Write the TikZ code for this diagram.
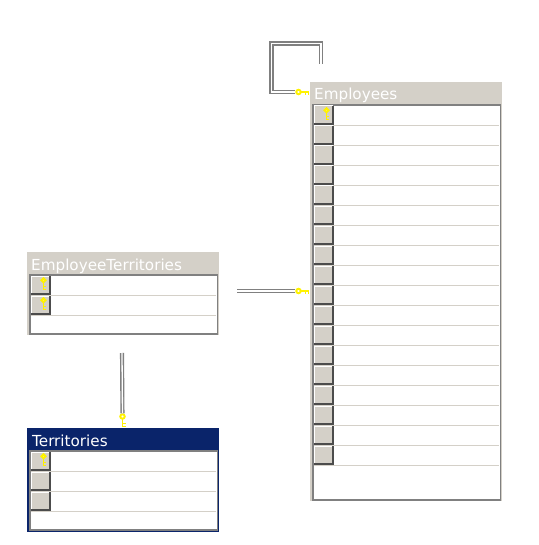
\documentclass[tikz,border=0pt]{standalone}
\usepackage{fontspec}
\setmainfont{DejaVu Sans}
\usepackage{xcolor}
\usetikzlibrary{positioning, calc}

\definecolor{panelgray}{HTML}{D4D0C8}
\definecolor{framegray}{HTML}{808080}
\definecolor{seldark}{HTML}{0A246A}

\begin{document}
\begin{tikzpicture}[
  x=1pt, y=-1pt,
  tbl/.style={rectangle, fill=panelgray, anchor=north west, inner sep=0pt},
  tblsel/.style={tbl, fill=seldark},
  gridbox/.style={rectangle, draw=framegray, line width=1.6pt, fill=white,
    anchor=north west, inner sep=0pt},
  tbltitle/.style={text=white, font=\fontsize{15.2}{17}\selectfont,
    anchor=base west, inner sep=0pt},
  rowbox/.style={rectangle, anchor=north west, inner sep=0pt, minimum height=20pt},
  rowline/.style={panelgray, line width=1pt},
  btn/.style={rectangle, fill=panelgray, anchor=north west, inner sep=0pt,
    minimum width=18.5pt, minimum height=18pt},
  btnedge/.style={black!70, line width=2pt},
  btnlight/.style={white, line width=1pt},
  rel/.style={framegray, line width=1.4pt, double=white, double distance=1.3pt},
  keyhead/.style={circle, draw=yellow, fill=white, line width=2pt,
    minimum size=4.4pt, inner sep=0pt, outer sep=1pt, transform shape},
  pics/tablekey/.style={code={
    \draw[yellow, line width=1.9pt] (2,0) -- (10.5,0);
    \draw[yellow, line width=1.3pt] (7,0) -- (7,-3) (10,0) -- (10,-3);
    \node[keyhead] (-head) at (0,0) {};
  }}
]
\useasboundingbox (0,0) rectangle (538,545);

%% Employees
\node[tbl, minimum width=192pt, minimum height=419pt] (emp) at (310,82) {};
\node[gridbox, minimum width=187.5pt, minimum height=395pt] (empgrid) at (312,104) {};
\node[tbltitle] (emptitle) at (314,100) {Employees};
\foreach \i in {1,...,18} {
  \node[rowbox, minimum width=185pt] (emprow\i) at (313.5,{85.5+20*\i}) {};
  \node[btn] (empbtn\i) at (314,{86+20*\i}) {};
  \draw[rowline] (emprow\i.south west) -- (emprow\i.south east);
  \draw[btnlight] (empbtn\i.south west) -- (empbtn\i.north west) -- (empbtn\i.north east);
  \draw[btnedge] (empbtn\i.south west) -- (empbtn\i.south east) -- (empbtn\i.north east);
}

%% EmployeeTerritories
\node[tbl, minimum width=192pt, minimum height=83pt] (et) at (27,252) {};
\node[gridbox, minimum width=187.5pt, minimum height=59pt] (etgrid) at (29,274) {};
\node[tbltitle] (ettitle) at (31,270) {EmployeeTerritories};
\foreach \i in {1,2} {
  \node[rowbox, minimum width=185pt] (etrow\i) at (30.5,{255.5+20*\i}) {};
  \node[btn] (etbtn\i) at (31,{256+20*\i}) {};
  \draw[rowline] (etrow\i.south west) -- (etrow\i.south east);
  \draw[btnlight] (etbtn\i.south west) -- (etbtn\i.north west) -- (etbtn\i.north east);
  \draw[btnedge] (etbtn\i.south west) -- (etbtn\i.south east) -- (etbtn\i.north east);
}

%% Territories
\node[tblsel, minimum width=192pt, minimum height=104pt] (ter) at (27,428) {};
\node[gridbox, minimum width=187.5pt, minimum height=79pt] (tergrid) at (29,450) {};
\node[tbltitle] (tertitle) at (32,446) {Territories};
\foreach \i in {1,2,3} {
  \node[rowbox, minimum width=185pt] (terrow\i) at (30.5,{431.5+20*\i}) {};
  \node[btn] (terbtn\i) at (31,{432+20*\i}) {};
  \draw[rowline] (terrow\i.south west) -- (terrow\i.south east);
  \draw[btnlight] (terbtn\i.south west) -- (terbtn\i.north west) -- (terbtn\i.north east);
  \draw[btnedge] (terbtn\i.south west) -- (terbtn\i.south east) -- (terbtn\i.north east);
}

%% keys on the buttons
\pic[rotate=-90, scale=.9] at ($(empbtn1.center)+(3,-5)$) {tablekey};
\pic[rotate=-90, scale=.9] at ($(etbtn1.center)+(3,-5)$) {tablekey};
\pic[rotate=-90, scale=.9] at ($(etbtn2.center)+(3,-5)$) {tablekey};
\pic[rotate=-90, scale=.9] at ($(terbtn1.center)+(3,-5)$) {tablekey};

%% keys on the relations
\pic[yscale=-1] (selfkey) at (298.5,92) {tablekey};
\pic[yscale=-1] (etkey)   at (298.5,291) {tablekey};
\pic[rotate=-90] (terkey) at (122.5,416.5) {tablekey};

\coordinate (looptop) at (271.5,43.5);
\coordinate (loopend) at (321,64);
\coordinate (etend)   at (237,291);
\coordinate (terend)  at (122,353);

%% relations
\draw[rel] (selfkey-head) -| (looptop) -| (loopend);
\draw[rel] (etkey-head) -- (etend);
\draw[rel] (terkey-head) -- (terend);

\end{tikzpicture}
\end{document}
